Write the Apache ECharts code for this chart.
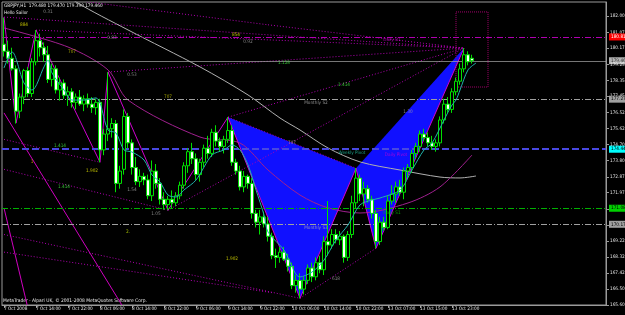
<!DOCTYPE html>
<html><head><meta charset="utf-8">
<script src="https://cdn.jsdelivr.net/npm/echarts@6/dist/echarts.min.js"></script>
<style>html,body{margin:0;padding:0;background:#000}#c{width:625px;height:315px}</style>
</head><body><div id="c"></div>
<script>
// ---- data ----
const xTickLabels = ['7 Oct 2008','7 Oct 14:00','7 Oct 22:00','8 Oct 06:00','8 Oct 14:00','8 Oct 22:00','9 Oct 06:00','9 Oct 14:00','9 Oct 22:00','10 Oct 06:00','10 Oct 14:00','10 Oct 22:00','13 Oct 07:00','13 Oct 15:00','13 Oct 23:00'];
const yTickValues = [165.6,166.5,167.425,168.325,169.225,170.15,171.05,171.975,172.875,173.8,174.7,175.625,176.525,177.45,178.35,179.25,180.175,181.075,182.0];
const slotCount = 151;
// open, high, low, close
const candles = [
[180.4,181.9,179.7,180.0],[180.0,180.6,179.3,179.6],[179.6,180.2,178.9,179.0],[179.0,179.2,175.9,176.6],
[176.6,177.6,176.2,177.4],[177.4,179.0,177.0,178.9],[178.9,179.1,177.4,177.6],[177.6,179.6,177.4,179.4],
[179.4,181.2,179.2,180.6],[180.6,181.0,179.7,180.2],[180.2,180.5,179.4,179.8],[179.8,180.3,178.2,178.4],
[178.4,179.3,178.0,179.0],[179.0,179.2,177.6,177.8],[177.8,178.5,177.2,178.2],[178.2,178.4,177.3,177.5],
[177.5,178.0,176.9,177.7],[177.7,177.9,176.8,177.1],[177.1,177.6,176.7,177.4],[177.4,177.8,176.9,177.0],
[177.0,177.5,176.6,177.3],[177.3,177.6,176.8,177.0],[177.0,177.4,176.5,176.8],[176.8,177.3,176.4,177.1],
[177.1,177.3,173.7,174.4],[174.4,175.6,174.1,175.3],[175.3,178.8,174.9,175.6],[175.6,176.2,175.1,175.9],
[175.9,176.1,172.0,172.5],[172.5,173.5,172.2,173.2],[173.3,176.7,173.0,176.3],[176.3,176.5,174.5,174.8],
[174.8,175.0,173.0,173.4],[173.4,174.0,172.4,172.6],[172.6,173.3,172.3,172.9],[172.9,173.1,172.4,172.7],
[172.7,173.0,171.6,171.8],[171.8,173.8,171.5,173.2],[173.2,173.6,172.2,172.5],[172.5,172.8,171.3,171.6],
[171.6,172.0,171.0,171.3],[171.3,171.8,170.98,171.6],[171.6,172.1,171.1,171.4],[171.4,172.0,171.2,171.8],
[171.8,172.6,171.6,172.4],[172.4,173.7,172.2,173.5],[173.5,174.5,173.1,174.3],[174.3,174.8,173.6,173.9],
[173.9,174.2,172.7,173.0],[173.0,173.9,172.6,173.7],[173.7,174.7,173.4,174.5],[174.5,175.2,173.9,174.2],
[174.2,175.6,174.0,175.4],[175.4,175.8,174.6,174.9],[174.9,175.1,174.3,174.6],[174.6,175.2,174.2,175.0],
[175.0,176.26,174.8,175.5],[175.5,175.8,173.5,173.7],[173.7,173.9,173.0,173.2],[173.2,173.5,172.1,172.3],
[172.3,173.2,172.0,172.9],[172.9,173.0,172.2,172.5],[172.5,172.8,170.5,170.8],[170.8,171.0,170.0,170.3],
[170.3,171.0,169.6,170.6],[170.6,170.9,170.0,170.2],[170.2,170.6,169.2,169.5],[169.5,169.7,168.2,168.4],
[168.4,168.8,167.7,168.3],[168.3,168.9,168.0,168.6],[168.6,168.9,168.1,168.2],[168.2,168.5,167.5,167.8],
[167.8,168.0,166.5,166.7],[166.7,167.3,166.3,167.0],[167.0,167.4,165.98,166.5],[166.5,167.2,166.2,167.0],
[167.0,167.9,166.8,167.7],[167.7,168.0,166.9,167.2],[167.2,168.3,167.0,168.0],[168.0,168.4,167.4,167.6],
[167.6,169.5,167.3,169.2],[169.2,171.5,168.4,169.0],[169.0,169.9,168.8,169.6],[169.6,169.9,169.1,169.3],
[169.3,169.8,169.0,169.5],[169.5,169.6,168.0,168.3],[168.3,169.8,168.1,169.6],[169.6,171.8,169.4,171.4],
[171.4,173.36,171.1,172.8],[172.8,173.0,171.5,171.9],[171.9,172.6,171.2,172.2],[172.2,172.4,171.4,171.6],
[171.6,171.8,170.5,170.8],[170.8,171.0,168.82,169.2],[169.2,170.6,169.0,170.3],[170.3,170.6,169.8,170.0],
[170.0,171.8,169.9,171.5],[171.5,172.4,171.3,171.9],[171.9,172.6,171.4,172.3],[172.3,172.7,171.8,172.0],
[172.0,173.4,171.6,173.2],[173.2,173.6,172.8,173.4],[173.4,174.4,173.1,174.2],[174.2,174.8,173.9,174.6],
[174.6,175.5,174.3,175.3],[175.3,175.6,174.9,175.1],[175.1,175.4,174.6,174.8],[174.8,175.2,174.4,174.6],
[174.6,175.0,174.3,174.8],[174.8,176.3,174.6,176.1],[176.1,177.3,175.9,177.0],[177.0,177.4,176.5,176.7],
[176.7,177.9,176.5,177.7],[177.7,178.5,177.5,178.3],[178.3,179.3,178.1,179.0],[179.0,180.18,178.8,179.8],
[179.8,180.0,179.2,179.4],[179.6,179.8,179.3,179.46]
];
// indicator lines: [barIndex, price]
const tealMA = [[0,179.05],[2,179.96],[5,178.2],[7,177.8],[10,179.11],[11,179.5],[12,178.77],[15,177.8],[17,177.23],[20,177.23],[23,177.35],[24,177.06],[26,175.53],[28,175.36],[30,174.4],[32,174.28],[35,173.83],[37,172.98],[39,172.58],[41,171.84],[43,171.73],[45,172.13],[48,172.69],[52,174.11],[55,174.4],[57,174.68],[59,174.4],[61,173.55],[63,172.13],[65,170.71],[66,169.74],[70,168.72],[74,167.19],[77,167.47],[80,168.15],[83,169.29],[86,170.14],[89,171.28],[92,171.56],[94,171.67],[99,172.13],[102,173.26],[105,174.4],[107,174.79],[110,176.1],[112,176.95],[113,177.23],[114,177.8],[116,178.94],[118,179.33]];
const grayMA = [[14,183.6],[18,182.8],[31,181.21],[49,179.11],[61,177.52],[69,176.21],[74,175.53],[81,174.51],[89,173.72],[99,173.26],[109,172.86],[114,172.81],[118,172.92]];
const purpleMA = [[0,181.32],[16,180.24],[26,178.94],[31,177.23],[49,175.13],[59,174.79],[66,173.26],[74,171.84],[81,171.11],[89,170.82],[101,171.39],[109,172.3],[117,174.11]];
const zigzag = [[0,181.94],[3,175.92],[8,181.2],[24,173.7],[26,178.82],[41,170.98],[56,176.26],[74,165.98],[88,173.36],[93,168.82],[115,180.18]];
// harmonic pattern triangles [x1,p1,x2,p2,x3,p3]
const patternTriangles = [[56,176.26,74,165.98,88,173.36],[88,173.36,93,168.82,115,180.18]];
// dotted projection lines [x1,p1,x2,p2]
const dottedLines = [
[56,176.26,115,180.18],[41,170.98,115,180.18],[26,178.82,115,180.18],[8,181.2,115,180.18],[0,181.94,115,180.18],
[56,176.26,88,173.36],[74,165.98,93,168.82],[0,169.6,74,165.98],[0,168.6,67,166.3],[0,173.3,41,170.98],[0,175.0,24,173.7],
[14,183.0,66,181.5],[66,181.5,115,180.18]
];
const solidDiagonals = [[0,171.1,6,165.4],[0,176.5,30,165.4]];
const boxRect = [[113,182.23,121,177.97]];
// horizontal levels
const levelValues = [180.81,179.46,177.28,174.44,171.09,170.18];
const levelLabels = ['180.815','179.460','177.275','174.445','171.085','170.175'];
const levelColors = ['#b000b0','#a8a8a8','#a0a0a0','#4848e0','#00b000','#a0a0a0'];
const levelBoxes = ['#ff0000','#ffffff','#a0a0a0','#00ffff','#00d000','#a0a0a0'];
// annotations
const annX = [11,5,17,27,32,41,58,61,70,85,78,97,14,7,22,15,32,38,31,72,87,98,101,78,57,83,97];
const annP = [182.23,181.49,179.95,180.75,178.65,177.4,180.92,180.52,179.33,178.08,177.06,180.64,174.61,173.7,173.19,172.29,172.11,170.75,169.78,174.78,174.22,174.1,176.55,170.01,168.2,167.11,170.86];
const annText = ['0.31','884','707','0.83','0.53','707','854','0.92','1.128','1.414','Monthly S2','Daily R1','1.414','1','1.902','1.414','1.54','1.05','2.','707','Weekly Pivot','Daily Pivot','1.30','Monthly S3','1.902','618','Daily S1'];
const annColor = ['#a0a0a0','#e0e000','#c0c000','#a0a0a0','#a0a0a0','#c0c000','#e0e000','#a0a0a0','#40e040','#40e040','#b0b0b0','#d000d0','#40e040','#e0a000','#e0e000','#40e040','#a0a0a0','#a0a0a0','#c0e000','#a0a0a0','#20c0a0','#d000d0','#a0a0a0','#b0b0b0','#e0e000','#a0a0a0','#00c000'];

// ---- chart ----
const FONT = '"DejaVu Sans Condensed","DejaVu Sans",sans-serif';
const FS = 4.7;
const cats = Array.from({length: slotCount}, (_, i) => String(i));
const chart = echarts.init(document.getElementById('c'), null, {renderer: 'canvas'});

function customSeg(data, style, z) {
  return {type: 'custom', coordinateSystem: 'cartesian2d', clip: true, silent: true, z: z || 3,
    data: data, encode: {x: [0, 2], y: [1, 3]},
    renderItem: function (params, api) {
      const a = api.coord([api.value(0), api.value(1)]);
      const b = api.coord([api.value(2), api.value(3)]);
      return {type: 'line', shape: {x1: a[0], y1: a[1], x2: b[0], y2: b[1]}, style: Object.assign({fill: null}, style)};
    }};
}

const option = {
  backgroundColor: '#000000',
  animation: false,
  textStyle: {fontFamily: FONT},
  grid: {left: 2, right: 19, top: 2, bottom: 10, show: true, borderColor: '#9a9a9a', borderWidth: 1, backgroundColor: '#000', outerBoundsMode: 'none', containLabel: false},
  xAxis: {type: 'category', data: cats, boundaryGap: true,
    axisLine: {show: true, lineStyle: {color: '#9a9a9a'}},
    axisTick: {show: true, alignWithLabel: true, length: 3, interval: (i) => i % 8 === 0 && i <= 112, lineStyle: {color: '#9a9a9a'}},
    axisLabel: {show: true, color: '#e0e0e0', fontSize: FS, fontFamily: FONT, margin: 1, align: 'left',
      interval: (i) => i % 8 === 0 && i <= 112,
      formatter: (v, i) => (i % 8 === 0 && i / 8 < xTickLabels.length) ? xTickLabels[i / 8] : ''},
    splitLine: {show: false}},
  yAxis: {type: 'value', position: 'right', min: 165.6, max: 182.794, scale: true,
    axisLine: {show: true, lineStyle: {color: '#9a9a9a'}},
    axisTick: {show: true, length: 3, customValues: yTickValues, lineStyle: {color: '#9a9a9a'}},
    axisLabel: {show: true, color: '#e0e0e0', fontSize: FS, fontFamily: FONT, margin: 4, customValues: yTickValues,
      formatter: (v) => v.toFixed(3)},
    splitLine: {show: false}},
  graphic: [
    {type: 'text', left: 4, top: 3, style: {text: 'GBPJPY,H1  179.480 179.470 179.390 179.460', fill: '#e8e8e8', font: FS + 'px ' + FONT}},
    {type: 'text', left: 4, top: 10, style: {text: 'Hello Sailor', fill: '#e8e8e8', font: FS + 'px ' + FONT}},
    {type: 'text', left: 3, top: 298, style: {text: 'MetaTrader - Alpari UK, \u00a9 2001-2008 MetaQuotes Software Corp.', fill: '#e8e8e8', font: '4.9px ' + FONT}}
  ],
  series: [
    {type: 'custom', coordinateSystem: 'cartesian2d', clip: true, silent: true, z: 1,
      data: patternTriangles, encode: {x: [0, 2, 4], y: [1, 3, 5]},
      renderItem: function (params, api) {
        const pts = [0, 2, 4].map(k => api.coord([api.value(k), api.value(k + 1)]));
        return {type: 'polygon', shape: {points: pts}, style: {fill: '#1010ff', stroke: null}};
      }},
    customSeg(dottedLines, {stroke: '#b000b0', lineWidth: 1, lineDash: [1, 2]}, 2),
    customSeg(solidDiagonals, {stroke: '#d000c0', lineWidth: 1}, 2),
    {type: 'custom', coordinateSystem: 'cartesian2d', clip: true, silent: true, z: 2,
      data: boxRect, encode: {x: [0, 2], y: [1, 3]},
      renderItem: function (params, api) {
        const a = api.coord([api.value(0), api.value(1)]);
        const b = api.coord([api.value(2), api.value(3)]);
        return {type: 'rect', shape: {x: a[0], y: a[1], width: b[0] - a[0], height: b[1] - a[1]}, style: {fill: null, stroke: '#a0006a', lineWidth: 1, lineDash: [1, 1]}};
      }},
    {type: 'line', data: grayMA, symbol: 'none', smooth: 0.3, z: 3, lineStyle: {color: '#b0b0b0', width: 1}},
    {type: 'line', data: purpleMA, symbol: 'none', smooth: 0.3, z: 3, lineStyle: {color: '#a0208f', width: 1}},
    {type: 'line', data: zigzag, symbol: 'none', z: 4, lineStyle: {color: '#d000d0', width: 1}},
    {type: 'line', data: [], z: 5, markLine: {silent: true, symbol: 'none', animation: false,
      data: levelValues.map((v, k) => ({yAxis: v,
        lineStyle: {color: levelColors[k], width: k === 3 ? 2 : 1, type: k === 3 ? [7, 3] : (k === 1 ? 'solid' : [6, 2, 1, 2]), opacity: k === 1 ? 0.7 : 1},
        label: {show: true, position: 'end', distance: 3, formatter: levelLabels[k], color: k === 0 ? '#fff' : '#000', backgroundColor: levelBoxes[k], padding: [1, 2], fontSize: FS, fontFamily: FONT}}))}},
    {type: 'candlestick', data: candles.map(c => [c[0], c[3], c[2], c[1]]), barWidth: 3, z: 6,
      itemStyle: {color: '#000000', color0: '#ffffff', borderColor: '#00e000', borderColor0: '#00e000', borderWidth: 1}},
    {type: 'line', data: tealMA, symbol: 'none', smooth: 0.3, z: 7, lineStyle: {color: '#20b2aa', width: 1}},
    {type: 'scatter', symbolSize: 0, z: 8, silent: true,
      data: annX.map((x, k) => ({value: [x, annP[k]], label: {show: true, position: 'inside', formatter: annText[k], color: annColor[k], fontSize: FS, fontFamily: FONT}}))}
  ]
};
chart.setOption(option);
</script></body></html>
